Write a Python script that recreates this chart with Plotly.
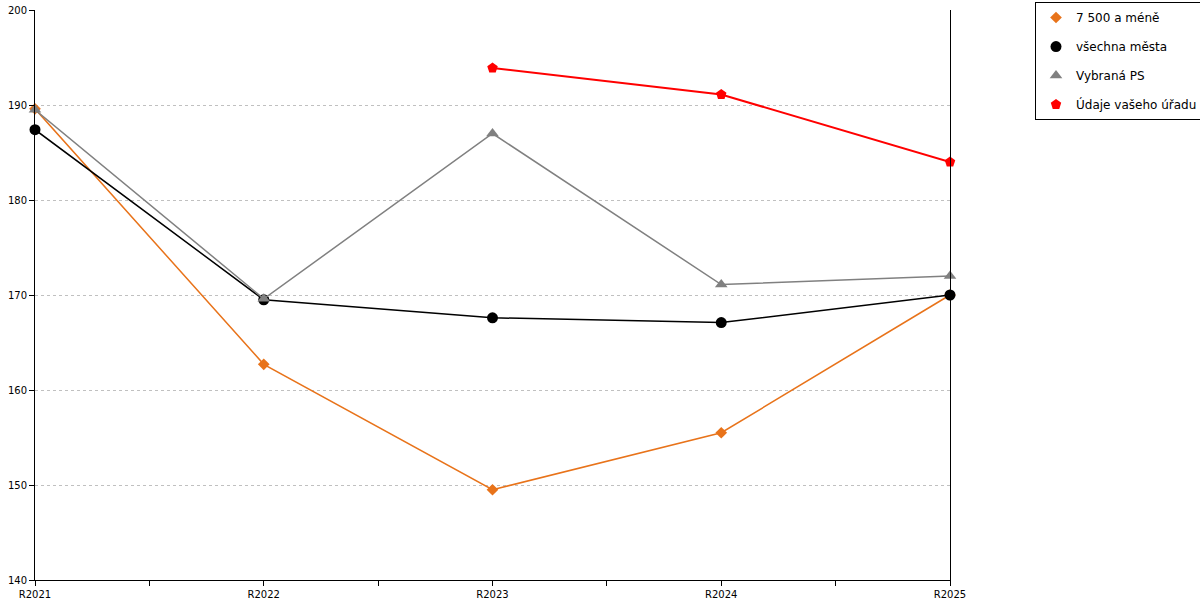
import plotly.graph_objects as go

# Data
roky = ["R2021", "R2022", "R2023", "R2024", "R2025"]
male_obce = [189.6, 162.7, 149.5, 155.5, 170.0]
vsechna_mesta = [187.4, 169.5, 167.6, 167.1, 170.0]
vybrana_ps = [189.5, 169.6, 187.0, 171.1, 172.0]
vas_urad = [None, None, 193.9, 191.1, 184.0]

# x positions from category order, ticks also at the half steps
x_idx = list(range(len(roky)))
tick_pos = [i / 2 for i in range(2 * len(roky) - 1)]
tick_txt = [roky[int(p)] if p == int(p) else "" for p in tick_pos]

series = [
    ("7 500 a méně", male_obce, "#E8731A", 1.5, "diamond", 9),
    ("všechna města", vsechna_mesta, "#000000", 1.5, "circle", 11),
    ("Vybraná PS", vybrana_ps, "#808080", 1.5, "triangle-up", 11),
    ("Údaje vašeho úřadu", vas_urad, "#FF0000", 2, "pentagon", 11),
]

fig = go.Figure()

for name, vals, color, lw, sym, size in series:
    # line without legend entry, then markers carrying the legend symbol
    fig.add_trace(go.Scatter(
        x=x_idx, y=vals, name=name, legendgroup=name, showlegend=False,
        mode="lines", line=dict(color=color, width=lw)
    ))
    fig.add_trace(go.Scatter(
        x=x_idx, y=vals, name=name, legendgroup=name,
        mode="markers", marker=dict(symbol=sym, size=size, color=color)
    ))

fig.update_traces(cliponaxis=False)

fig.update_layout(
    width=1200, height=600,
    paper_bgcolor="white", plot_bgcolor="white",
    margin=dict(l=35, r=250, t=10, b=20, autoexpand=False),
    font=dict(family="DejaVu Sans", size=10, color="#000000"),
    showlegend=True,
    legend=dict(
        x=1.0929, xanchor="left", y=1.014, yanchor="top",
        bordercolor="#000000", borderwidth=1,
        font=dict(size=12),
        traceorder="grouped", tracegroupgap=10,
        itemwidth=30
    ),
    xaxis=dict(
        range=[0, 4], tickvals=tick_pos, ticktext=tick_txt,
        showgrid=False, zeroline=False,
        showline=True, linecolor="#000000", linewidth=1,
        ticks="outside", ticklen=5, tickcolor="#000000"
    ),
    yaxis=dict(
        range=[140, 200], dtick=10,
        showgrid=True, gridcolor="#C0C0C0", griddash="dot", gridwidth=1,
        zeroline=False,
        showline=True, mirror=True, linecolor="#000000", linewidth=1,
        ticks="outside", ticklen=5, tickcolor="#000000"
    )
)

# drop the default body margin so the 1200x600 figure fills the window
fig.write_html(
    "out.html",
    config={"displayModeBar": False},
    post_script="document.body.style.margin='0';"
)
